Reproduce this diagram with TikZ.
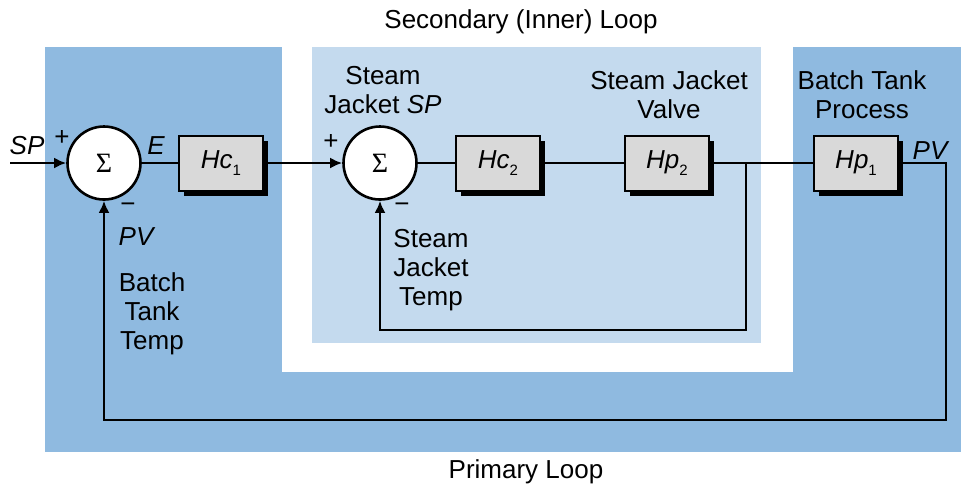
\documentclass[tikz,border=0pt]{standalone}
\usepackage{fontspec}
\setmainfont{Liberation Sans}
\newfontfamily\sigmafont{Liberation Serif}
\usetikzlibrary{arrows.meta,shadows}

\definecolor{primaryblue}{RGB}{143,186,224}
\definecolor{innerblue}{RGB}{196,218,238}
\definecolor{boxgray}{RGB}{217,217,217}

% transfer function label with a low subscript
\newcommand{\tfname}[2]{\textit{#1}\raisebox{-0.55ex}{\fontsize{7.5}{7.5}\selectfont #2}}

\begin{document}
\begin{tikzpicture}[
  x=0.5pt,
  y=-0.5pt,
  font=\fontsize{13}{14.5}\selectfont,
  line/.style={draw=black,line width=1.3pt},
  arrow/.style={line,-{Latex[length=6pt,width=5.5pt]}},
  sumnode/.style={line,circle,fill=white,minimum size=36.5pt,inner sep=0pt,font=\sigmafont\fontsize{14}{14}\selectfont},
  tfbox/.style={draw=black,line width=1pt,fill=boxgray,minimum width=42pt,minimum height=27.5pt,
    drop shadow={shadow xshift=2.5pt,shadow yshift=-2.5pt,fill=black,opacity=1}},
  txt/.style={align=center,inner sep=0pt},
  itxt/.style={txt,font=\fontsize{13}{14.5}\selectfont\itshape}
]
\useasboundingbox (0,0) rectangle (961,484);

% Loop regions
\fill[primaryblue] (45,47) rectangle (961,452);
\fill[white] (282,47) rectangle (793,372);
\fill[innerblue] (312,47) rectangle (761,343);

\node[txt] (secondary) at (521,22) {Secondary (Inner) Loop};
\node[txt] (primary) at (526,472) {Primary Loop};

% Summing junctions and blocks
\node[sumnode] (sum1) at (104,163) {Σ};
\node[tfbox] (hc1) at (221,163) {\tfname{Hc}{1}};
\node[sumnode] (sum2) at (380,163) {Σ};
\node[tfbox] (hc2) at (498,163) {\tfname{Hc}{2}};
\node[tfbox] (hp2) at (667,163) {\tfname{Hp}{2}};
\node[tfbox] (hp1) at (856,163) {\tfname{Hp}{1}};

% Free ends of the signal lines
\coordinate (spin) at (10,163);
\coordinate (branch) at (746,163);
\coordinate (innerdrop) at (746,330);
\coordinate (pvout) at (946,163);
\coordinate (outerdrop) at (946,420);

% Forward path
\draw[arrow] (spin) -- (sum1.west);
\draw[line] (sum1.east) -- (hc1.west);
\draw[arrow] (hc1.east) -- (sum2.west);
\draw[line] (sum2.east) -- (hc2.west);
\draw[line] (hc2.east) -- (hp2.west);
\draw[line] (hp2.east) -- (hp1.west);

% Feedback paths
\draw[arrow] (branch) -- (innerdrop) -| (sum2.south);
\draw[arrow] (hp1.east) -- (pvout) -- (outerdrop) -| (sum1.south);

% Signal labels
\node[itxt] (splabel) at (27,146) {SP};
\node[txt] (plus1) at (62,138) {+};
\node[itxt] (elabel) at (156,146) {E};
\node[txt] (minus1) at (128,208) {−};
\node[itxt] (pvfb) at (136,237) {PV};
\node[txt] (plus2) at (331,142) {+};
\node[txt] (minus2) at (402,208) {−};
\node[itxt] (pvlabel) at (930,151) {PV};

% Descriptive labels
\node[txt] (jacketsp) at (383,90) {Steam\\Jacket \textit{SP}};
\node[txt] (jackettemp) at (431,270) {Steam\\Jacket\\Temp};
\node[txt] (jacketvalve) at (669,95) {Steam Jacket\\Valve};
\node[txt] (tankproc) at (862,95) {Batch Tank\\Process};
\node[txt] (tanktemp) at (152,314) {Batch\\Tank\\Temp};

\end{tikzpicture}
\end{document}
